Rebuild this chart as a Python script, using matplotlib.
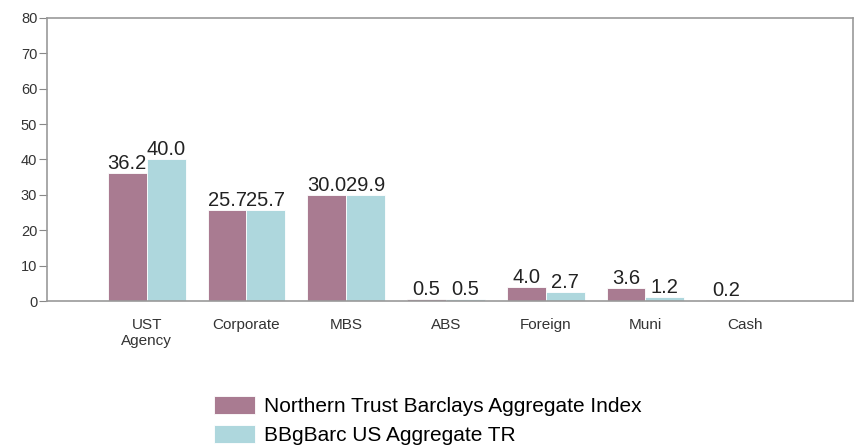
import numpy as np
import matplotlib.pyplot as plt

# sector weights (%)
sectors = ['UST\nAgency', 'Corporate', 'MBS', 'ABS', 'Foreign', 'Muni', 'Cash']
northern = [36.2, 25.7, 30.0, 0.5, 4.0, 3.6, 0.2]
bbgbarc = [40.0, 25.7, 29.9, 0.5, 2.7, 1.2, np.nan]
series_names = ['Northern Trust Barclays Aggregate Index', 'BBgBarc US Aggregate TR']
colors = ['#A97B91', '#AED7DD']

plt.rcParams['font.family'] = ['Liberation Sans', 'DejaVu Sans']

fig = plt.figure(figsize=(8.55, 4.48), dpi=100)
ax = fig.add_axes([0.055, 0.328, 0.9425, 0.632])

x = np.arange(1, len(sectors) + 1)
w = 0.39
bars1 = ax.bar(x - w / 2, northern, w, color=colors[0], edgecolor='white',
               linewidth=0.6, label=series_names[0])
bars2 = ax.bar(x + w / 2, bbgbarc, w, color=colors[1], edgecolor='white',
               linewidth=0.6, label=series_names[1])

# value labels above each bar
for xs, vals in [(x - w / 2, northern), (x + w / 2, bbgbarc)]:
    for xi, v in zip(xs, vals):
        if np.isnan(v):
            continue
        ax.annotate('{:.1f}'.format(v), (xi, v), xytext=(0, 0),
                    textcoords='offset points', ha='center', va='bottom',
                    fontsize=14.5, color='#222222')

ax.set_xlim(0, 8.08)
ax.set_ylim(0, 80)
ax.set_yticks(range(0, 81, 10))
ax.set_xticks(x)
ax.set_xticklabels(sectors, fontsize=11, color='#333333')
ax.tick_params(axis='x', length=0, pad=12)
ax.tick_params(axis='y', length=6, width=0.8, color='#888888', pad=1,
               labelsize=10.5, labelcolor='#333333')
for s in ax.spines.values():
    s.set_color('#999999')
    s.set_linewidth(1.2)

fig.legend(loc='upper center', bbox_to_anchor=(0.5, 0.14), ncol=1,
           frameon=False, fontsize=15, handlelength=2.0, handleheight=0.95,
           handletextpad=0.4, labelspacing=0.45, borderpad=0,
           bbox_transform=fig.transFigure)

fig.savefig('out.png', dpi=100)
